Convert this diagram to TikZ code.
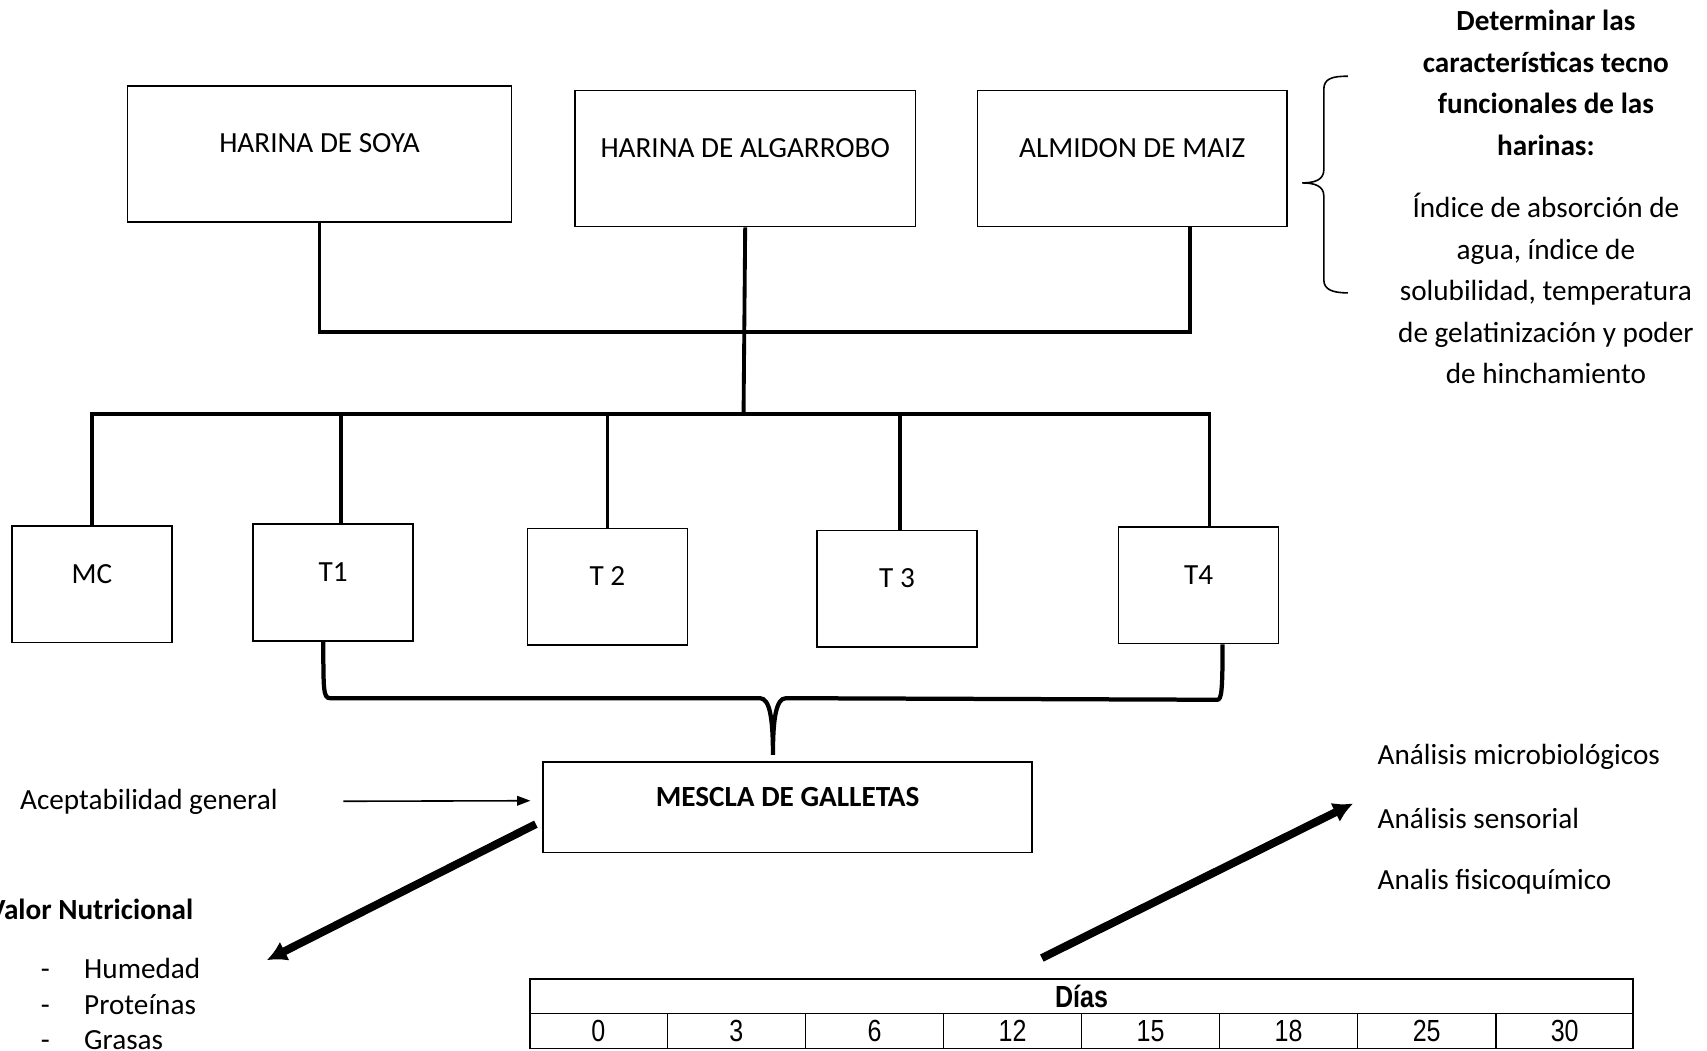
\documentclass[tikz,border=0pt]{standalone}
\usepackage{fontspec}
\setmainfont{Carlito}
\newfontfamily\tablafuente[FakeStretch=0.82]{Liberation Sans}
\usetikzlibrary{shapes,positioning,calc,arrows.meta}

\begin{document}
\begin{tikzpicture}[x=0.41pt, y=-0.41pt, font=\fontsize{11}{15.6}\selectfont,
caja/.style={rectangle, draw, line width=0.6pt, align=center, text height=8pt, text depth=8.8pt},
harina/.style={caja, minimum height=51.3pt},
muestra/.style={caja, minimum width=60.3pt, minimum height=43.9pt},
texto/.style={inner sep=0pt},
conector/.style={line width=1.45pt},
llave/.style={line width=1.6pt},
flechafina/.style={line width=0.6pt, -{Triangle[length=5pt,width=3.6pt]}},
flechagruesa/.style={line width=3pt, -{Latex[length=7.5pt,width=8pt]}},
dias/.style={draw, line width=0.6pt, outer sep=0pt, inner sep=0pt, font=\tablafuente\fontsize{11.5}{12}\selectfont},
relation/.style={rectangle split, rectangle split parts=#1, rectangle split horizontal, dias, text width=51.39pt, align=center, text height=8.6pt, text depth=1pt, inner ysep=1.75pt}]

\useasboundingbox (0,0) rectangle (1568,965);

% HARINAS

\node [harina, minimum width=144.7pt] (harinasoya) at (293.5,141.5) {HARINA DE SOYA};
\node [harina, minimum width=128.3pt] (harinaalgarrobo) at (684.5,145.5) {HARINA DE ALGARROBO};
\node [harina, minimum width=116.4pt] (almidonmaiz) at (1040,145.5) {ALMIDON DE MAIZ};

\node [align=center, font=\fontsize{11}{15.6}\selectfont\bfseries] (determinartitulo) at (1420,76)
{Determinar las\\características tecno\\funcionales de las\\harinas:};
\node [align=center] (determinartexto) at (1420,265)
{Índice de absorción de\\agua, índice de\\solubilidad, temperatura\\de gelatinización y poder\\de hinchamiento};

\draw [line width=0.6pt] (1238,70) .. controls (1224,70) and (1216,72) .. (1216,82) -- (1216,156)
 .. controls (1216,165) and (1208,168) .. (1196,168) .. controls (1208,168) and (1216,171) .. (1216,180)
 -- (1216,257) .. controls (1216,266) and (1224,269) .. (1238,269);

% TRATAMIENTOS

\node [muestra] (mc) at (84.5,536.5) {MC};
\node [muestra] (tratamientouno) at (306,535) {T1};
\node [muestra] (tratamientodos) at (558,539) {T 2};
\node [muestra] (tratamientotres) at (824,541) {T 3};
\node [muestra] (tratamientocuatro) at (1101,537.5) {T4};

\coordinate (nivelharinas) at (683,305);
\coordinate (nivelmezclas) at (683,380);

\draw [conector] (harinasoya.south) |- (nivelharinas) -| ($(almidonmaiz.south)+(53,0)$);
\draw [conector] (harinaalgarrobo.south) -- (nivelmezclas);
\draw [conector] (mc.north) |- (nivelmezclas) -| ($(tratamientocuatro.north)+(10,0)$);
\foreach \t/\d in {tratamientouno/7, tratamientodos/0, tratamientotres/3}
  \draw [conector] ($(\t.north)+(\d,0)$) |- (nivelmezclas);

% MESCLA

\node [caja, minimum width=184.1pt, minimum height=34pt, font=\fontsize{11}{15.6}\selectfont\bfseries] (mescla) at (723.5,741.5) {MESCLA DE GALLETAS};

\coordinate (llaveizq) at ($(tratamientouno.south)+(-9,0)$);
\coordinate (llaveder) at ($(tratamientocuatro.south)+(22,0)$);
\coordinate (llavepunta) at ($(mescla.north)+(-13.5,-6)$);

\draw [llave] (llaveizq) .. controls +(0,44) and +(-6,0) .. ++(6,52) -- ($(llavepunta)+(-12,-52)$)
 .. controls +(9,0) and +(0,-34) .. (llavepunta) .. controls +(0,-34) and +(-9,0) .. ($(llavepunta)+(12,-52)$)
 -- ($(llaveder)+(-5,51)$) .. controls +(4,0) and +(0,44) .. (llaveder);

% EVALUACIONES

\node [texto, anchor=west] (aceptabilidad) at (18,737) {Aceptabilidad general};
\node [texto, anchor=east, font=\fontsize{11}{15.6}\selectfont\bfseries] (valornutricional) at (178,835) {Valor Nutricional};
\foreach \componente [count=\i] in {Humedad, Proteínas, Grasas}
  \node [texto, anchor=west] (componente\i) at (37,857.5+32.5*\i) {-\hspace{13pt}\componente};

\node [texto, anchor=west] (analisismicro) at (1265,695) {Análisis microbiológicos};
\node [texto, anchor=west] (analisissensorial) at (1265,752) {Análisis sensorial};
\node [texto, anchor=west] (analisisfisico) at (1265,810) {Analis fisicoquímico};

% TABLA

\node [dias, minimum width=415.33pt, minimum height=13.12pt, font=\tablafuente\bfseries\fontsize{11.5}{12}\selectfont] (diastitulo) at (993.5,915) {Días};

\node [relation=8, below=0pt of diastitulo.south west, anchor=north west] (diasfila)
{0%
\nodepart{two} 3
\nodepart{three} 6
\nodepart{four} 12
\nodepart{five} 15
\nodepart{six} 18
\nodepart{seven} 25
\nodepart{eight} 30
};

\coordinate (puntanutricional) at (245,882);

\draw [flechafina] ($(aceptabilidad.east)+(60,-1)$) -- ($(mescla.west)+(-11,-6)$);
\draw [flechagruesa] ($(mescla.west)+(-6,15.5)$) -- (puntanutricional);
\draw [flechagruesa] ($(diastitulo.north)+(-36.5,-19)$) -- ($(analisissensorial.west)+(-22,-14)$);

\end{tikzpicture}
\end{document}
